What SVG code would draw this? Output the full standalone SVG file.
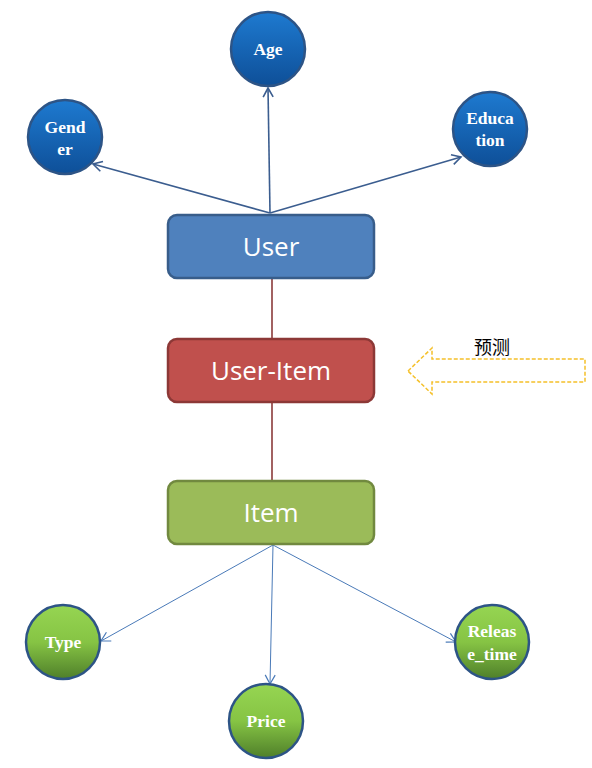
<svg xmlns="http://www.w3.org/2000/svg" width="592" height="768" viewBox="0 0 592 768">
<style>
.ct{font-family:"Liberation Serif","Times New Roman",serif;font-weight:bold;font-size:17.5px;fill:#ffffff;text-anchor:middle}
.bt{font-family:"Open Sans","Noto Sans",sans-serif;font-size:26px;fill:#ffffff;text-anchor:middle}
.blue{fill:url(#gBlue);stroke:#2d5486;stroke-width:2.5}
.green{fill:url(#gGreen);stroke:#2d5486;stroke-width:2.5}
.up{stroke:#3b5d8f;stroke-width:1.6;fill:none;marker-end:url(#ahUp)}
.dn{stroke:#4a7ab8;stroke-width:1;fill:none;marker-end:url(#ahDn)}
.red{stroke:#8b3a3a;stroke-width:1.6}
</style>
<defs>
<linearGradient id="gBlue" x1="0" y1="0" x2="0" y2="1">
<stop offset="0" stop-color="#1e7ad0"/>
<stop offset="1" stop-color="#0e4f98"/>
</linearGradient>
<linearGradient id="gGreen" x1="0" y1="0" x2="0" y2="1">
<stop offset="0" stop-color="#96d552"/>
<stop offset="0.5" stop-color="#86c444"/>
<stop offset="1" stop-color="#4f7f2a"/>
</linearGradient>
<marker id="ahUp" markerWidth="14" markerHeight="14" refX="10" refY="6" orient="auto" markerUnits="userSpaceOnUse">
<path d="M1,1 L10,6 L1,11" fill="none" stroke="#3b5d8f" stroke-width="1.6"/>
</marker>
<marker id="ahDn" markerWidth="14" markerHeight="14" refX="10" refY="6" orient="auto" markerUnits="userSpaceOnUse">
<path d="M1,1 L10,6 L1,11" fill="none" stroke="#4a7ab8" stroke-width="1.2"/>
</marker>
</defs>
<g id="connectors">
<line class="up" x1="270" y1="213" x2="268" y2="88"/>
<line class="up" x1="270" y1="213" x2="93" y2="164"/>
<line class="up" x1="270" y1="213" x2="461" y2="157"/>
<line class="red" x1="272" y1="279" x2="272" y2="338"/>
<line class="red" x1="272" y1="402" x2="272" y2="481"/>
<line class="dn" x1="273" y1="545" x2="101" y2="641"/>
<line class="dn" x1="273" y1="545" x2="270" y2="684"/>
<line class="dn" x1="273" y1="545" x2="456" y2="642"/>
</g>
<g id="age"><circle class="blue" cx="268" cy="49" r="37"/><text class="ct" x="268" y="55">Age</text></g>
<g id="gender"><circle class="blue" cx="65" cy="137" r="37"/><text class="ct" x="65" y="133">Gend</text><text class="ct" x="65" y="155">er</text></g>
<g id="education"><circle class="blue" cx="490" cy="129" r="37"/><text class="ct" x="490" y="124">Educa</text><text class="ct" x="490" y="146">tion</text></g>
<g id="user"><rect x="168" y="215" width="206" height="63" rx="9" fill="#4f81bd" stroke="#385d8a" stroke-width="2.5"/><text class="bt" x="271" y="256">User</text></g>
<g id="user-item"><rect x="168" y="339" width="206" height="63" rx="9" fill="#c0504d" stroke="#8c3836" stroke-width="2.5"/><text class="bt" x="271" y="380">User-Item</text></g>
<g id="item"><rect x="168" y="481" width="206" height="63" rx="9" fill="#9bbb59" stroke="#71893f" stroke-width="2.5"/><text class="bt" x="271" y="522">Item</text></g>
<g id="type"><circle class="green" cx="63" cy="642" r="37"/><text class="ct" x="63" y="648">Type</text></g>
<g id="price"><circle class="green" cx="266" cy="721" r="37"/><text class="ct" x="266" y="727">Price</text></g>
<g id="release"><circle class="green" cx="492" cy="642" r="37"/><text class="ct" x="492" y="637">Releas</text><text class="ct" x="492" y="660">e_time</text></g>
<g id="predict">
<path d="M408,371 L432,348 L432,359 L585,359 L585,382 L432,382 L432,394 Z" fill="#ffffff" stroke="#f5c02a" stroke-width="1.5" stroke-dasharray="4,2"/>
<text x="492" y="354" font-family="'Noto Sans CJK SC',sans-serif" font-size="18" fill="#000000" text-anchor="middle">预测</text>
</g>
</svg>
